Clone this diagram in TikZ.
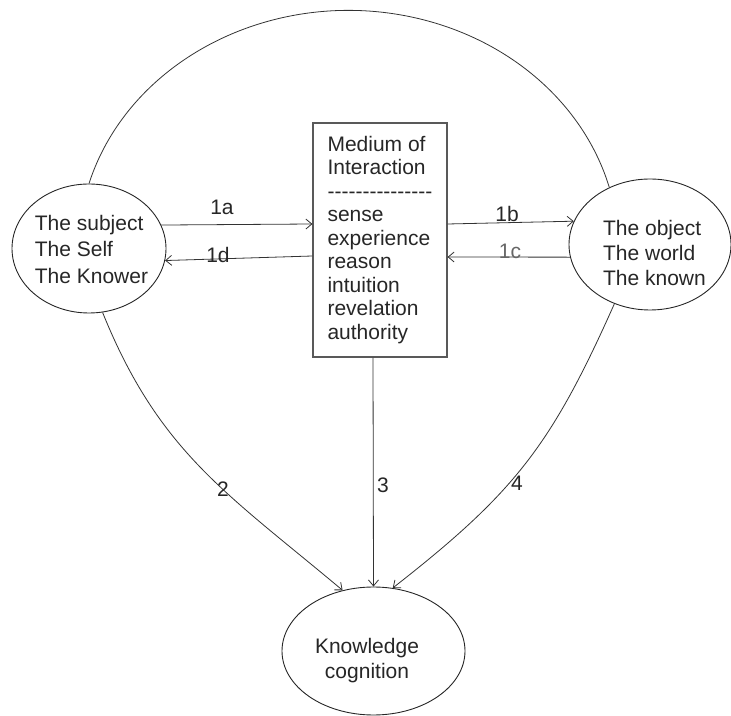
\documentclass[tikz,border=0pt]{standalone}
\usepackage{fontspec}
\setmainfont{Liberation Sans}
\usetikzlibrary{arrows.meta,shapes.geometric}
\newcommand\hy{\mbox{-}}
\begin{document}
\begin{tikzpicture}[x=1pt,y=1pt,
  ell/.style={draw=black!85, line width=0.9pt, ellipse, inner sep=0pt},
  boxst/.style={draw=black!65, line width=1.1pt, rectangle, inner sep=0pt,
    minimum width=134pt, minimum height=234pt, align=left,
    font=\fontsize{21}{23.5}\selectfont, text=black!85},
  conn/.style={draw=black!80, line width=0.8pt},
  arr/.style={conn, -{Straight Barb[length=6pt,width=10pt]}},
  lab/.style={font=\fontsize{21}{25}\selectfont, text=black!85, inner sep=0pt},
  txt/.style={align=left, text=black!85, inner sep=0pt}]
\useasboundingbox (0,0) rectangle (731,715);
% ellipses
\node[ell, minimum width=154pt, minimum height=129pt] (L) at (89,466.5) {};
\node[ell, minimum width=162pt, minimum height=131pt] (R) at (650,470.5) {};
\node[ell, minimum width=183pt, minimum height=128pt] (K) at (373.5,64) {};
% box
\node[boxst] (B) at (380,475) {Medium of\\Interaction\\\hy\hy\hy\hy\hy\hy\hy\hy\hy\hy\hy\hy\hy\hy\hy\\sense\\experience\\reason\\intuition\\revelation\\authority};
% texts
\node[txt, font=\fontsize{21}{26.5}\selectfont] (Lt) at (91.5,465.6) {The subject\\The Self\\The Knower};
\node[txt, font=\fontsize{21}{25}\selectfont] (Rt) at (654.5,462) {The object\\The world\\The known};
\node[txt, align=center, font=\fontsize{21}{25}\selectfont] (Kt) at (367,54.5) {Knowledge\\cognition};
% connectors
\draw[conn] (L.north) arc[start angle=164, end angle=15, x radius=270pt, y radius=239pt];
\draw[arr] (L.18) -- ([yshift=16pt]B.west);
\draw[arr] ([yshift=-16pt]B.west) -- (L.-9);
\draw[arr] ([yshift=16pt]B.east) -- (R.163);
\draw[arr] (R.189) -- ([yshift=-17pt]B.east);
\draw[arr] (L.-78) to[out=-68, in=140, looseness=1.05] (K.117);
\draw[arr] ([xshift=-7pt]B.south) -- (K.north);
\draw[arr] (R.-121) to[out=-114, in=38, looseness=1.1] (K.73);
% labels
\node[lab] (l1a) at (222,508) {1a};
\node[lab] (l1d) at (218,460) {1d};
\node[lab] (l1b) at (507,501) {1b};
\node[lab, text=black!60] (l1c) at (510,464) {1c};
\node[lab] (l2) at (223,226) {2};
\node[lab] (l3) at (383,230) {3};
\node[lab] (l4) at (517,232) {4};
\end{tikzpicture}
\end{document}
